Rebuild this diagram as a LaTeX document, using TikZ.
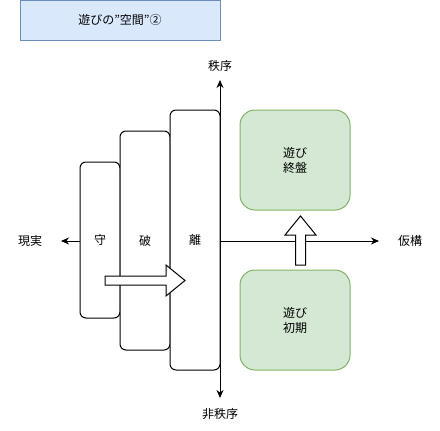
\documentclass[tikz,border=0pt]{standalone}
\usepackage{fontspec}
\setmainfont{Noto Sans CJK JP}[Ligatures=ResetAll]
\usetikzlibrary{arrows.meta}
\definecolor{bluefill}{HTML}{DAE8FC}
\definecolor{bluedraw}{HTML}{6C8EBF}
\definecolor{greenfill}{HTML}{D5E8D4}
\definecolor{greendraw}{HTML}{82B366}
\tikzset{
  lbl/.style={font=\fontsize{12pt}{14pt}\selectfont, inner sep=0pt},
  stagebox/.style={draw=black, fill=white, line width=1pt, rounded corners=6pt, minimum width=#1, font=\fontsize{12pt}{14pt}\selectfont},
  playbox/.style={draw=greendraw, fill=greenfill, line width=1pt, rounded corners=15pt, minimum width=110pt, minimum height=100pt, align=center, font=\fontsize{12pt}{15pt}\selectfont},
  titlebox/.style={draw=bluedraw, fill=bluefill, line width=1pt, minimum width=200pt, minimum height=40pt, font=\fontsize{12pt}{14pt}\selectfont},
  axis/.style={line width=1pt, -{Stealth[length=8pt,width=7pt]}},
  blockarrow/.style={draw=black, fill=white, line width=1pt, line join=miter}
}
\begin{document}
\begin{tikzpicture}[x=1pt,y=-1pt]
\useasboundingbox (0,0) rectangle (440,431);
\node[titlebox] (title) at (120,20) {遊びの\char"22 空間\char"22 ②};
% axis labels
\node[lbl] (order) at (220,66) {秩序};
\node[lbl] (disorder) at (220,414) {非秩序};
\node[lbl] (real) at (30,241) {現実};
\node[lbl] (fict) at (410,241) {仮構};
\coordinate (c) at (220,241);
\coordinate (topend) at (220,80);
\coordinate (botend) at (220,398);
\coordinate (leftend) at (61,241);
\coordinate (rightend) at (379,241);
\draw[axis] (c) -- (topend);
\draw[axis] (c) -- (botend);
\draw[axis] (c) -- (leftend);
\draw[axis] (c) -- (rightend);
% stage boxes
\node[stagebox=40pt, minimum height=156pt] (shu) at (100,240) {守};
\node[stagebox=50pt, minimum height=219pt] (ha) at (145,240.5) {破};
\node[stagebox=50pt, minimum height=260pt] (ri) at (195,240) {離};
% play boxes
\node[playbox] (late) at (295,160) {遊び\\終盤};
\node[playbox] (early) at (295,320) {遊び\\初期};
% block arrows
\draw[blockarrow] (105,276) -- (166,276) -- (166,265) -- (185,280.5) -- (166,296) -- (166,285) -- (105,285) -- cycle;
\draw[blockarrow] (295.5,265) -- (295.5,235) -- (285,235) -- (300.5,216) -- (316,235) -- (305.5,235) -- (305.5,265) -- cycle;
\end{tikzpicture}
\end{document}
